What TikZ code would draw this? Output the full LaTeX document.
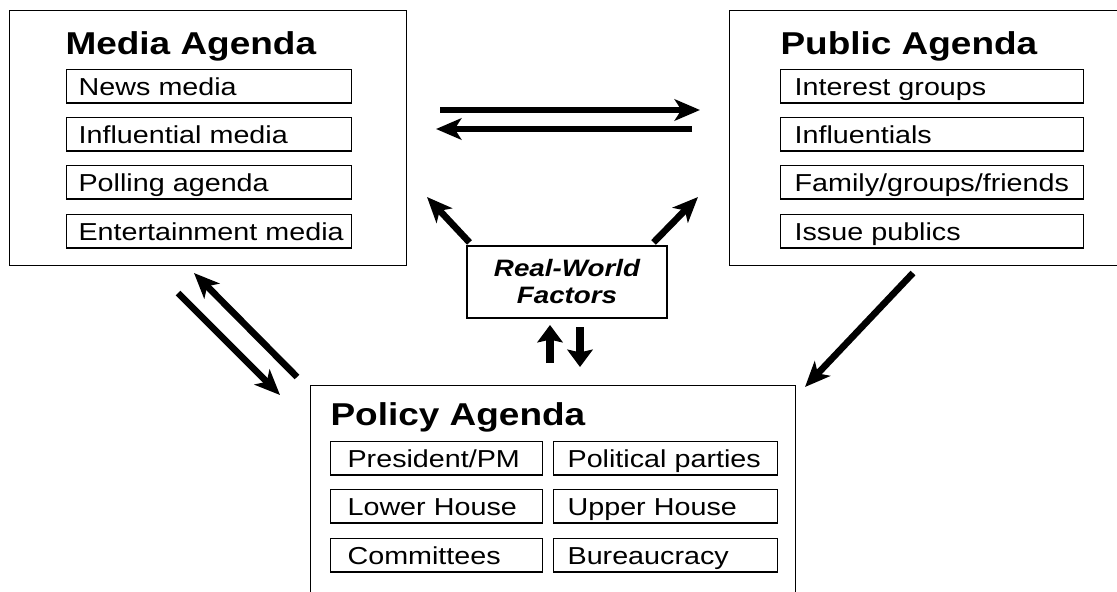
\documentclass[tikz,border=0pt]{standalone}
\usepackage{fontspec}
\setmainfont{Liberation Sans}[FakeStretch=1.17]
\usetikzlibrary{arrows.meta}

\tikzset{every picture/.style={line width=0.75pt}}
\tikzset{
  outerbox/.style={draw, line width=0.8pt, anchor=north west, inner sep=0pt, minimum height=191.25pt},
  agendatitle/.style={anchor=base west, inner sep=0pt, font=\bfseries\fontsize{23.7}{28}\selectfont},
  itembox/.style={draw, line width=0.9pt, anchor=north west, inner ysep=0pt, align=left,
    minimum height=25pt, text height=15pt, text depth=1.5pt, font=\fontsize{18.4}{22}\selectfont},
  mediaitem/.style={itembox, inner xsep=9pt, text width=195.75pt},
  publicitem/.style={itembox, inner xsep=10.5pt, text width=206.25pt},
  policyleft/.style={itembox, inner xsep=12.75pt, text width=133.5pt},
  policyright/.style={itembox, inner xsep=10.5pt, text width=147pt},
  flow/.style={line width=5pt, -{Stealth[length=19pt,width=16pt,inset=5pt]}},
  shortflow/.style={line width=5.5pt, -{Stealth[length=13pt,width=19pt,inset=2pt]}}
}

\begin{document}
\begin{tikzpicture}[x=0.75pt,y=0.75pt,yscale=-1,xscale=1]
    \fill[white] (0,0) rectangle (1117,592);
    \clip (0,0) rectangle (1117,592);

    %Media agenda
    \node[outerbox, minimum width=297.75pt] (media) at (9,10) {};
    \node[agendatitle] (mediatitle) at (65,55) {Media Agenda};
    \node[mediaitem] (news) at (66,69) {News media};
    \node[mediaitem] (influential) at (66,117) {Influential media};
    \node[mediaitem] (polling) at (66,165) {Polling agenda};
    \node[mediaitem] (entertainment) at (66,214) {\mbox{Entertainment media}};

    %Public agenda
    \node[outerbox, minimum width=300.75pt] (public) at (729,10) {};
    \node[agendatitle] (publictitle) at (780,55) {Public Agenda};
    \node[publicitem] (interest) at (780,69) {Interest groups};
    \node[publicitem] (influentials) at (780,117) {Influentials};
    \node[publicitem] (family) at (780,165) {\mbox{Family/groups/friends}};
    \node[publicitem] (issue) at (780,214) {Issue publics};

    %Policy agenda
    \node[outerbox, minimum width=363.75pt, minimum height=168.75pt] (policy) at (310,385) {};
    \node[agendatitle] (policytitle) at (330,425) {Policy Agenda};
    \node[policyleft] (president) at (330,441) {President/PM};
    \node[policyright] (parties) at (553,441) {\mbox{Political parties}};
    \node[policyleft] (lower) at (330,489) {Lower House};
    \node[policyright] (upper) at (553,489) {Upper House};
    \node[policyleft] (committees) at (330,538) {Committees};
    \node[policyright] (bureaucracy) at (553,538) {Bureaucracy};

    %Real-world factors
    \node[draw, line width=0.8pt, minimum width=150pt, minimum height=54pt, align=center,
      font=\bfseries\itshape\fontsize{17.8}{20.25}\selectfont] (realworld) at (567,282) {Real-World\\Factors};

    %Arrow ends
    \coordinate (mp start) at (440,110);
    \coordinate (mp end) at (700,110);
    \coordinate (pm start) at (692,129);
    \coordinate (pm end) at (436,129);
    \coordinate (rwm end) at (427,197);
    \coordinate (rwp end) at (698,197);
    \coordinate (up start) at (550,363);
    \coordinate (up end) at (550,325);
    \coordinate (down start) at (580,327);
    \coordinate (down end) at (580,367);
    \coordinate (mpol start) at (178,293);
    \coordinate (mpol end) at (280,395);
    \coordinate (polm start) at (297,377);
    \coordinate (polm end) at (194,273);
    \coordinate (ppol start) at (913,273);
    \coordinate (ppol end) at (805,387);

    %Straight Lines
    \draw[flow] (mp start) -- (mp end);
    \draw[flow] (pm start) -- (pm end);
    \draw[flow] ([shift={(3,-3)}]realworld.north west) -- (rwm end);
    \draw[flow] ([shift={(-14,-3)}]realworld.north east) -- (rwp end);
    \draw[shortflow] (up start) -- (up end);
    \draw[shortflow] (down start) -- (down end);
    \draw[flow] (mpol start) -- (mpol end);
    \draw[flow] (polm start) -- (polm end);
    \draw[flow] (ppol start) -- (ppol end);

\end{tikzpicture}
\end{document}
